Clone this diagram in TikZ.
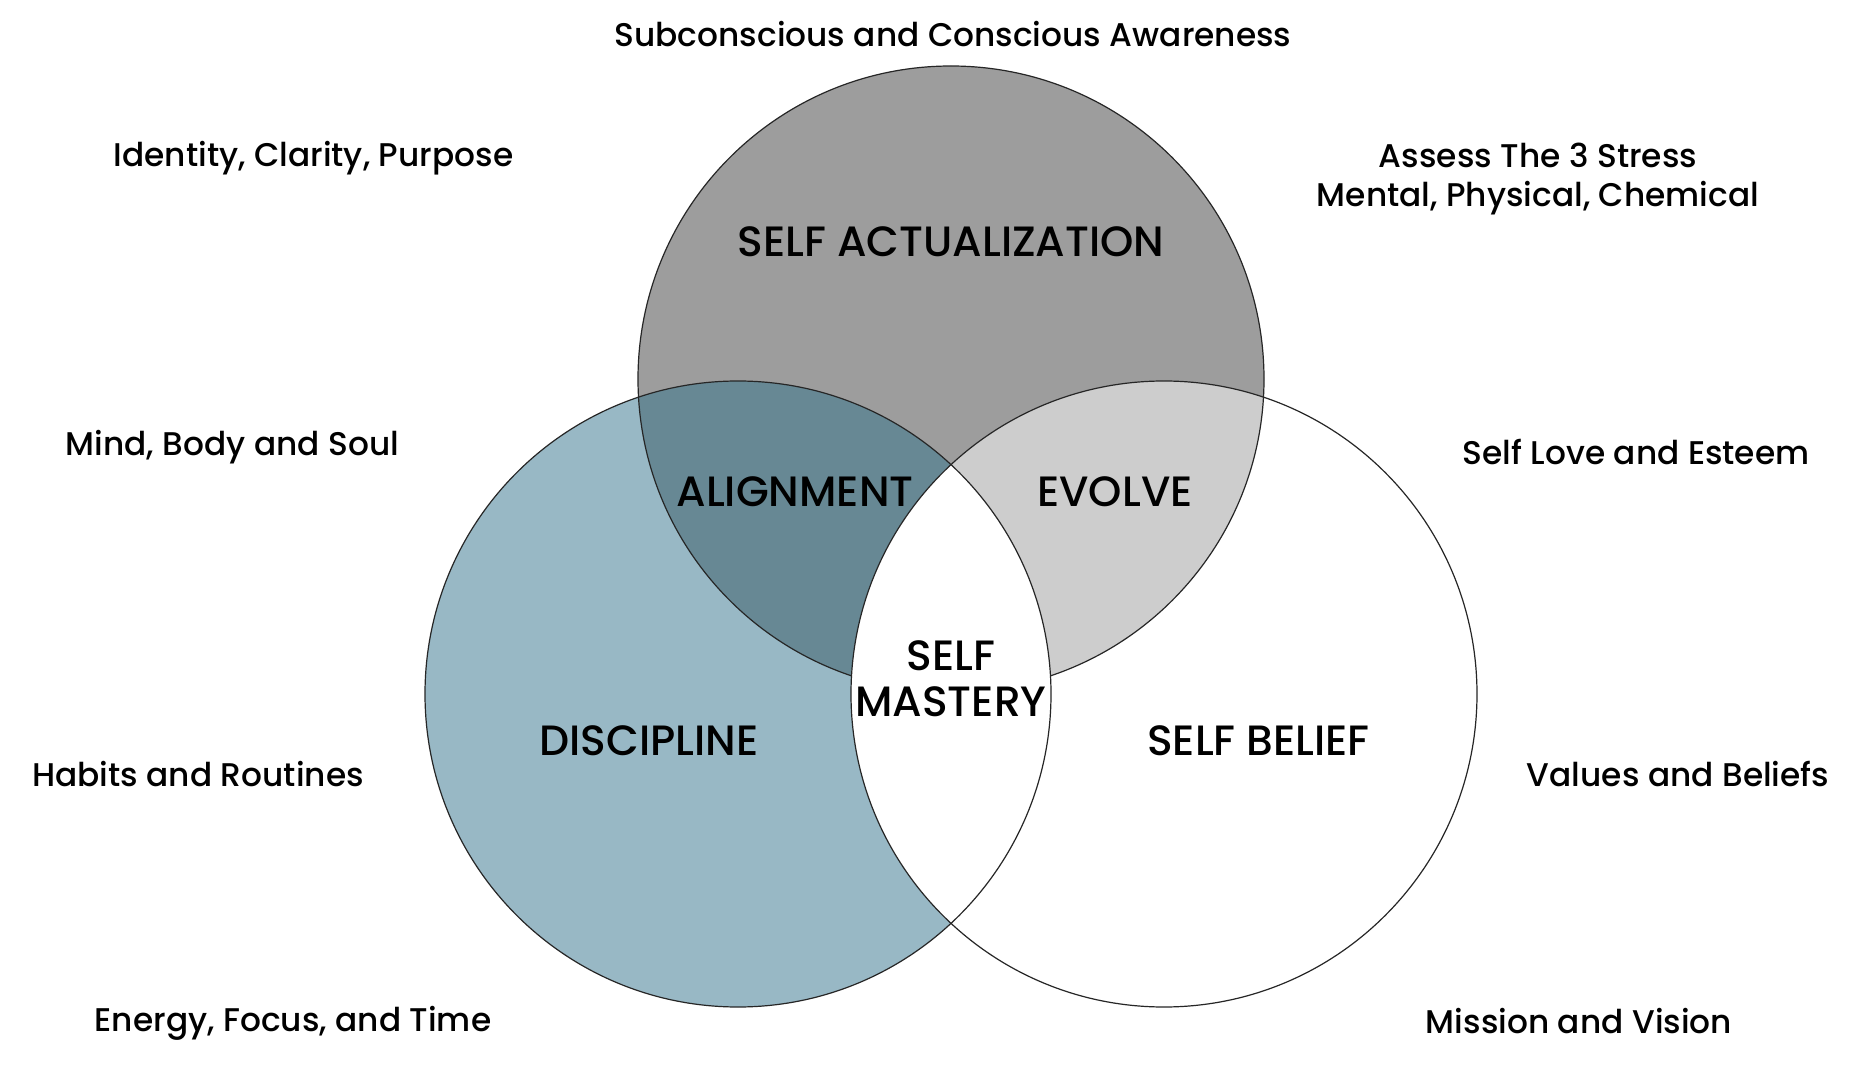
\documentclass[tikz,border=0pt]{standalone}
\usepackage{fontspec}
\setmainfont{Poppins Medium}
\definecolor{topgray}{HTML}{9D9D9D}
\definecolor{leftteal}{HTML}{98B8C5}
\definecolor{aligncol}{HTML}{678894}
\definecolor{evolvecol}{HTML}{CDCDCD}
\tikzset{
  outer/.style={font=\fontsize{16.4}{20}\selectfont, anchor=base, inner sep=0pt},
  inner/.style={font=\fontsize{21.2}{25}\selectfont, anchor=base, inner sep=0pt},
  ring/.style={draw=black!85, line width=0.6pt}
}
\begin{document}
\begin{tikzpicture}[x=0.5pt,y=-0.5pt]
\useasboundingbox (0,0) rectangle (1865,1069);
\fill[white] (0,0) rectangle (1865,1069);
\coordinate (ct) at (951,379);
\coordinate (cl) at (738,694);
\coordinate (cr) at (1164,694);
\def\rr{156.5pt}
% region fills
\fill[topgray] (ct) circle (\rr);
\fill[leftteal] (cl) circle (\rr);
\fill[white] (cr) circle (\rr);
\begin{scope}
  \clip (ct) circle (\rr);
  \fill[aligncol] (cl) circle (\rr);
  \fill[evolvecol] (cr) circle (\rr);
\end{scope}
\draw[ring] (ct) circle (\rr);
\begin{scope}
  \clip (cl) circle (\rr);
  \fill[white] (cr) circle (\rr);
\end{scope}
\draw[ring] (cl) circle (\rr);
\draw[ring] (cr) circle (\rr);
% inner labels
\node[inner] (sa) at (951,257) {SELF ACTUALIZATION};
\node[inner] (al) at (795,507) {ALIGNMENT};
\node[inner] (ev) at (1115,507) {EVOLVE};
\node[inner] (sm1) at (951,670.5) {SELF};
\node[inner] (sm2) at (951,717) {MASTERY};
\node[inner] (di) at (649,755) {DISCIPLINE};
\node[inner] (sb) at (1258.5,755) {SELF BELIEF};
% outer labels
\node[outer] (t1) at (953,47) {Subconscious and Conscious Awareness};
\node[outer] (t2) at (313.5,167) {Identity, Clarity, Purpose};
\node[outer] (t3a) at (1538,168) {Assess The 3 Stress};
\node[outer] (t3b) at (1538,207) {Mental, Physical, Chemical};
\node[outer] (t4) at (232.5,456) {Mind, Body and Soul};
\node[outer] (t5) at (1636,465) {Self Love and Esteem};
\node[outer] (t6) at (198,786) {Habits and Routines};
\node[outer] (t7) at (1678,786) {Values and Beliefs};
\node[outer] (t8) at (293,1031) {Energy, Focus, and Time};
\node[outer] (t9) at (1579,1033) {Mission and Vision};
\end{tikzpicture}
\end{document}
